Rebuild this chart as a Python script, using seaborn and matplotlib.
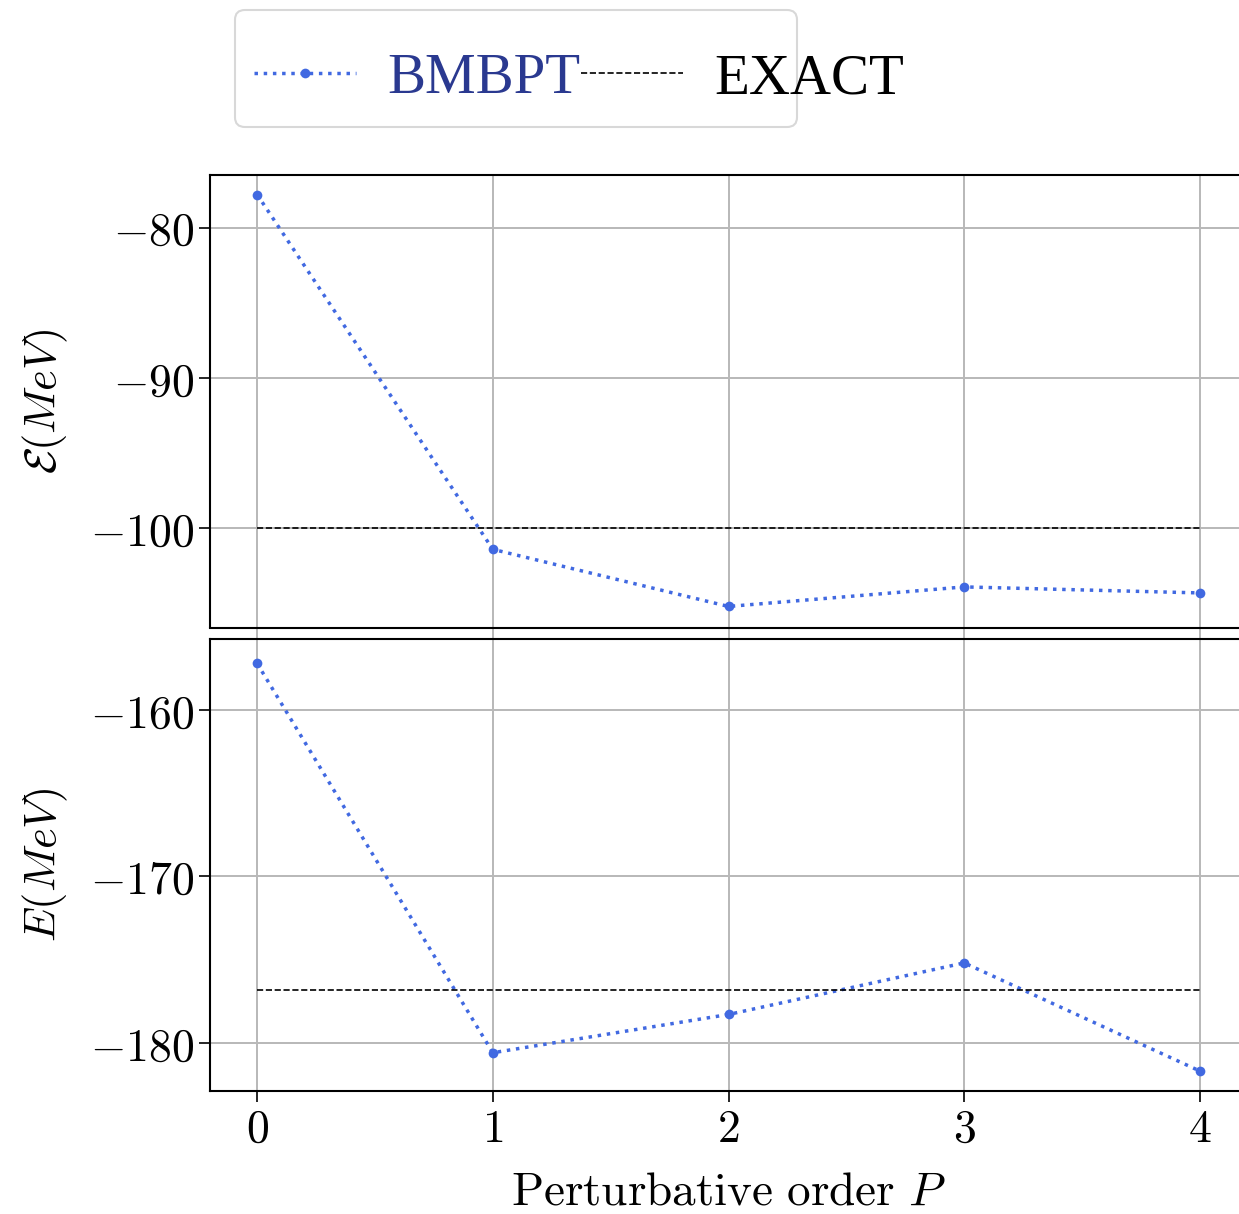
import matplotlib
matplotlib.use("Agg")
import matplotlib.pyplot as plt
import seaborn as sns
from matplotlib.patches import FancyBboxPatch
from matplotlib.ticker import FuncFormatter, FixedLocator

# data
orders = [0, 1, 2, 3, 4]
bmbpt_top = [-77.8, -101.4, -105.2, -103.9, -104.3]
exact_top = -100.0
bmbpt_bottom = [-157.2, -180.6, -178.3, -175.2, -181.7]
exact_bottom = -176.8

top_ticks = [-100, -90, -80]
bottom_ticks = [-180, -170, -160]

sns.set_theme(style="ticks")
plt.rcParams["mathtext.fontset"] = "cm"
plt.rcParams["font.family"] = ["DejaVu Serif"]

W, H = 1239, 1214
fig, (ax1, ax2) = plt.subplots(2, 1, sharex=True, figsize=(W / 100, H / 100), dpi=100)
fig.subplots_adjust(left=210 / W, right=1247 / W, top=1 - 175 / H, bottom=1 - 1091 / H,
                    hspace=11 / 452.5)

blue = "#4169E1"
grid_col = "#b8b8b8"
panels = [
    (ax1, bmbpt_top, exact_top, top_ticks, (-106.6, -76.5), r"$\mathcal{E}(MeV)$"),
    (ax2, bmbpt_bottom, exact_bottom, bottom_ticks, (-182.9, -155.7), r"$E(MeV)$"),
]

fmt = FuncFormatter(lambda v, pos: f"${v:g}$")

for ax, vals, exact, ticks, ylim, ylabel in panels:
    sns.lineplot(x=orders, y=vals, ax=ax, color=blue, linestyle=":", linewidth=2.5,
                 marker="o", markersize=7, markeredgewidth=0, label="BMBPT", legend=False)
    sns.lineplot(x=orders, y=[exact] * len(orders), ax=ax, color="black", linestyle="--",
                 linewidth=1.2, label="EXACT", legend=False)
    ax.set_ylim(*ylim)
    ax.yaxis.set_major_locator(FixedLocator(ticks))
    ax.yaxis.set_major_formatter(fmt)
    ax.set_ylabel(ylabel, fontsize=32, labelpad=14, color="black")
    ax.grid(True, color=grid_col, linewidth=1.4)
    ax.tick_params(axis="both", labelsize=33, length=8, width=1.2, color="black",
                   labelcolor="black")
    for s in ax.spines.values():
        s.set_color("black")
        s.set_linewidth(1.5)

# top panel: x ticks just continue the grid through the gap
ax1.tick_params(axis="x", color=grid_col, length=11, width=1.4)

ax2.set_xlim(-0.2, 4.2)
ax2.xaxis.set_major_locator(FixedLocator(orders))
ax2.xaxis.set_major_formatter(fmt)
ax2.set_xlabel(r"$\mathrm{Perturbative\ order}\ P$", fontsize=34, labelpad=12,
               color="black")

# legend, frame drawn separately (text runs past the box in the reference)
handles, labels = ax1.get_legend_handles_labels()
leg = fig.legend(handles, labels, loc="center left", bbox_to_anchor=(208 / W, 1 - 79 / H),
                 ncol=2, frameon=False,
                 prop={"family": "Liberation Serif", "size": 41},
                 handlelength=1.8, handletextpad=0.55, columnspacing=0.0,
                 borderpad=0.3)
leg.get_texts()[0].set_color("#2a3990")
leg.get_texts()[1].set_color("black")
frame = FancyBboxPatch((235 / W, 1 - 127 / H), 562 / W, 117 / H,
                       boxstyle="round,pad=0,rounding_size=0.008",
                       transform=fig.transFigure, facecolor="white",
                       edgecolor="#d8d8d8", linewidth=1.5, zorder=0)
fig.patches.append(frame)

fig.savefig("out.png", dpi=100)
